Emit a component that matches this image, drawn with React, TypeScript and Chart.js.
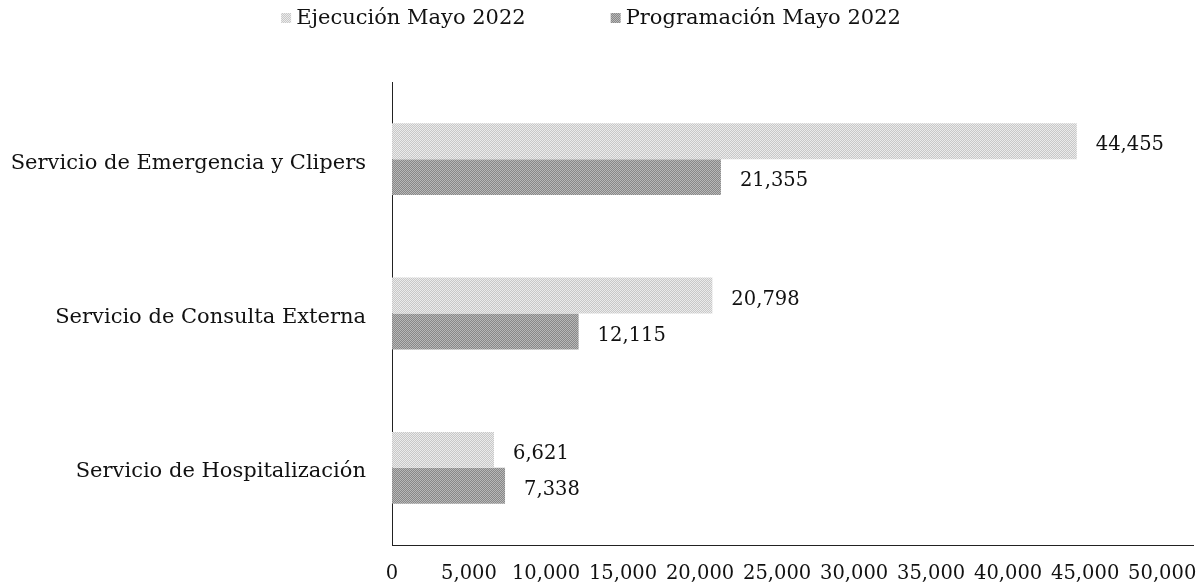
import { useEffect, useRef } from "react";
import { Chart, registerables } from "chart.js";

Chart.register(...registerables);

const categories = [
  "Servicio de Emergencia y Clipers",
  "Servicio de Consulta Externa",
  "Servicio de Hospitalización",
];
const seriesNames = ["Ejecución Mayo 2022", "Programación Mayo 2022"];
const ejecucion = [44455, 20798, 6621];
const programacion = [21355, 12115, 7338];
const xTicks = [0, 5000, 10000, 15000, 20000, 25000, 30000, 35000, 40000, 45000, 50000];
const xMax = 52000;

const FONT_FAMILY = "'DejaVu Serif', 'Liberation Serif', serif";
const TEXT_SIZE = 21;
const NUM_SIZE = 19.5;

const fmt = (v: number) => Number(v).toLocaleString("en-US");

function makePattern(ctx: CanvasRenderingContext2D, c1: string, c2: string) {
  const cv = document.createElement("canvas");
  cv.width = 2;
  cv.height = 2;
  const p = cv.getContext("2d")!;
  p.fillStyle = c1;
  p.fillRect(0, 0, 2, 2);
  p.fillStyle = c2;
  p.fillRect(0, 0, 1, 1);
  p.fillRect(1, 1, 1, 1);
  return ctx.createPattern(cv, "repeat")!;
}

const valueLabels = {
  id: "valueLabels",
  afterDatasetsDraw(chart: any) {
    const ctx = chart.ctx;
    ctx.save();
    ctx.font = `${NUM_SIZE}px ${FONT_FAMILY}`;
    ctx.fillStyle = "#111";
    ctx.textAlign = "left";
    ctx.textBaseline = "middle";
    chart.data.datasets.forEach((ds: any, i: number) => {
      const meta = chart.getDatasetMeta(i);
      meta.data.forEach((bar: any, j: number) => {
        ctx.fillText(fmt(ds.data[j]), bar.x + 19, bar.y + 4);
      });
    });
    ctx.restore();
  },
};

const topLegend = {
  id: "topLegend",
  afterDraw(chart: any) {
    const ctx = chart.ctx;
    ctx.save();
    ctx.font = `${TEXT_SIZE}px ${FONT_FAMILY}`;
    ctx.textBaseline = "middle";
    ctx.textAlign = "left";
    const box = 10;
    const gap = 5;
    const itemGap = 85;
    const items = chart.data.datasets.map((ds: any) => ({
      label: ds.label,
      fill: ds.backgroundColor,
      w: box + gap + ctx.measureText(ds.label).width,
    }));
    const total = items.reduce((s: number, it: any) => s + it.w, 0) + itemGap * (items.length - 1);
    let x = 591 - total / 2;
    const y = 18;
    items.forEach((it: any) => {
      ctx.fillStyle = it.fill;
      ctx.fillRect(x, y - box / 2, box, box);
      ctx.fillStyle = "#111";
      ctx.fillText(it.label, x + box + gap, y + 1);
      x += it.w + itemGap;
    });
    ctx.restore();
  },
};

export default function App() {
  const ref = useRef<HTMLCanvasElement>(null);

  useEffect(() => {
    const canvas = ref.current!;
    const ctx = canvas.getContext("2d")!;
    const light = makePattern(ctx, "#c8c8c8", "#ebebeb");
    const dark = makePattern(ctx, "#888888", "#b8b8b8");

    const chart = new Chart(canvas, {
      type: "bar",
      data: {
        labels: categories,
        datasets: [
          {
            label: seriesNames[0],
            data: ejecucion,
            backgroundColor: light as any,
            categoryPercentage: 0.465,
            barPercentage: 1,
          },
          {
            label: seriesNames[1],
            data: programacion,
            backgroundColor: dark as any,
            categoryPercentage: 0.465,
            barPercentage: 1,
          },
        ],
      },
      options: {
        indexAxis: "y",
        responsive: false,
        animation: false,
        layout: { padding: { left: 8, right: 10, top: 82, bottom: 0 } },
        plugins: {
          legend: { display: false },
          tooltip: { enabled: false },
        },
        scales: {
          x: {
            min: 0,
            max: xMax,
            afterBuildTicks: (s: any) => {
              s.ticks = xTicks.map((v) => ({ value: v }));
            },
            afterFit: (s: any) => {
              s.height = 43;
              s.paddingLeft = 0;
              s.paddingRight = 0;
            },
            grid: { display: false, drawTicks: false },
            border: { display: true, color: "#222", width: 1 },
            ticks: {
              font: { family: FONT_FAMILY, size: NUM_SIZE },
              color: "#111",
              padding: 17,
              autoSkip: false,
              maxRotation: 0,
              callback: (v: any) => fmt(v),
            },
          },
          y: {
            afterFit: (s: any) => {
              s.width = 384;
              s.paddingTop = 0;
              s.paddingBottom = 0;
            },
            grid: { display: false, drawTicks: false },
            border: { display: true, color: "#222", width: 1 },
            ticks: {
              font: { family: FONT_FAMILY, size: TEXT_SIZE },
              color: "#111",
              padding: 26,
              labelOffset: 4,
            },
          },
        },
      },
      plugins: [valueLabels, topLegend],
    });
    return () => chart.destroy();
  }, []);

  return (
    <div style={{ position: "fixed", left: 0, top: 0, width: 1203, height: 588, background: "#fff" }}>
      <canvas ref={ref} width={1203} height={588} />
    </div>
  );
}
